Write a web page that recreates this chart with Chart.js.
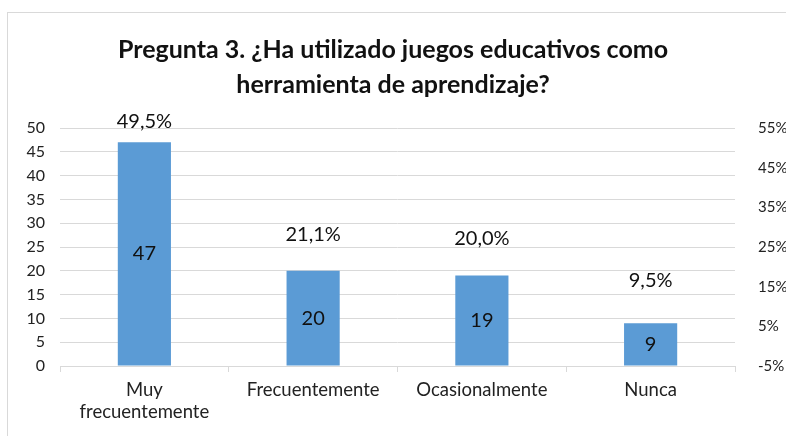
<!DOCTYPE html>
<html>
<head>
<meta charset="utf-8">
<script src="https://cdn.jsdelivr.net/npm/chart.js@4"></script>
<style>
  html, body { margin: 0; padding: 0; background: #fff; }
  #wrap { position: relative; width: 786px; height: 436px; overflow: hidden; }
  #frame { position: absolute; left: 7px; top: 12px; width: 800px; height: 440px; border: 1px solid #d9d9d9; box-sizing: border-box; }
  #chart { position: absolute; left: 0; top: 0; }
</style>
</head>
<body>
<div id="wrap">
  <div id="frame"></div>
  <canvas id="chart" width="786" height="436"></canvas>
</div>
<script>
// ---- data ----
const categories = [['Muy', 'frecuentemente'], 'Frecuentemente', 'Ocasionalmente', 'Nunca'];
const counts = [47, 20, 19, 9];
const percents = [49.5, 21.1, 20.0, 9.5];

const FONT = 'Lato, "Open Sans", sans-serif';

// draws the numbers inside the bars and the % labels above the (hidden) points
const labelPlugin = {
    id: 'labels',
    afterDatasetsDraw(chart) {
        const ctx = chart.ctx;
        ctx.save();
        ctx.font = '20px ' + FONT;
        ctx.fillStyle = '#111';
        ctx.textAlign = 'center';
        ctx.textBaseline = 'middle';
        chart.getDatasetMeta(0).data.forEach((bar, i) => {
            const mid = (bar.y + bar.base) / 2;
            ctx.fillText(String(counts[i]), bar.x, mid);
        });
        chart.getDatasetMeta(1).data.forEach((pt, i) => {
            ctx.fillText(percents[i].toFixed(1).replace('.', ',') + '%', pt.x, pt.y - 28);
        });
        ctx.restore();
    }
};

new Chart(document.getElementById('chart'), {
    data: {
        labels: categories,
        datasets: [
            {
                type: 'bar',
                data: counts,
                backgroundColor: '#5b9bd5',
                barPercentage: 0.9,
                categoryPercentage: 0.35,
                yAxisID: 'y',
                order: 2
            },
            {
                type: 'line',
                data: percents,
                showLine: false,
                pointRadius: 0,
                yAxisID: 'y1',
                order: 1
            }
        ]
    },
    options: {
        responsive: false,
        animation: false,
        layout: { padding: 0 },
        plugins: {
            legend: { display: false },
            tooltip: { enabled: false },
            title: {
                display: true,
                text: ['Pregunta 3. ¿Ha utilizado juegos educativos como', 'herramienta de aprendizaje?'],
                color: '#111',
                font: { family: FONT, size: 25, weight: 'bold', lineHeight: 1.4 },
                padding: { top: 32, bottom: 26 }
            }
        },
        scales: {
            x: {
                offset: true,
                grid: { offset: true, drawOnChartArea: false, drawTicks: true, tickLength: 6, color: '#d9d9d9' },
                border: { display: true, color: '#d9d9d9' },
                ticks: { color: '#222', font: { family: FONT, size: 18.5, lineHeight: 1.2 }, padding: 7, maxRotation: 0 },
                afterFit(scale) { scale.height = 70; }
            },
            y: {
                position: 'left',
                min: 0, max: 50,
                ticks: { stepSize: 5, color: '#222', font: { family: FONT, size: 16 }, padding: 15 },
                grid: { color: '#d9d9d9', drawTicks: false },
                border: { display: false },
                afterFit(scale) { scale.width = 60; }
            },
            y1: {
                position: 'right',
                min: -5, max: 55,
                ticks: { stepSize: 10, color: '#222', font: { family: FONT, size: 15 }, padding: 23,
                         callback: v => v + '%' },
                grid: { drawOnChartArea: false, drawTicks: false },
                border: { display: false },
                afterFit(scale) { scale.width = 51; }
            }
        }
    },
    plugins: [labelPlugin]
});
</script>
</body>
</html>
